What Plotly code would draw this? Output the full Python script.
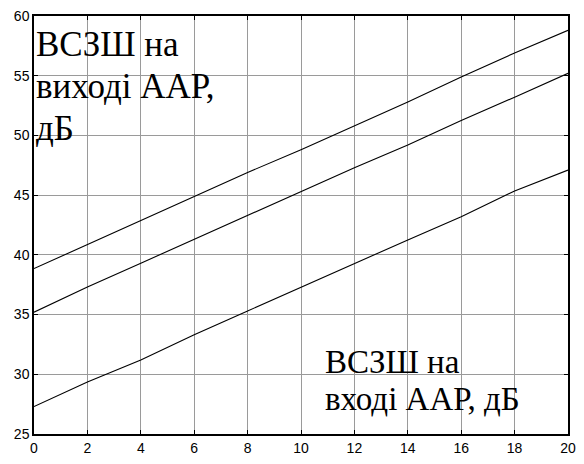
import plotly.graph_objects as go

# Input SNR values (dB) on the horizontal axis
snr_in = [0, 2, 4, 6, 8, 10, 12, 14, 16, 18, 20]

# Output SNR of the adaptive antenna array (dB), three curves
snr_out_upper = [38.85, 40.85, 42.9, 44.85, 46.9, 48.8, 50.8, 52.8, 54.9, 56.9, 58.8]
snr_out_middle = [35.2, 37.3, 39.3, 41.3, 43.3, 45.3, 47.3, 49.2, 51.25, 53.2, 55.2]
snr_out_lower = [27.3, 29.35, 31.2, 33.3, 35.3, 37.3, 39.25, 41.25, 43.2, 45.35, 47.1]

x_ticks = [0, 2, 4, 6, 8, 10, 12, 14, 16, 18, 20]
y_ticks = [25, 30, 35, 40, 45, 50, 55, 60]

# Axis captions, written inside the plot area line by line
out_caption = ["ВСЗШ на", "виході ААР,", "дБ"]
in_caption = ["ВСЗШ на", "вході ААР, дБ"]

fig = go.Figure()
for ys in (snr_out_upper, snr_out_middle, snr_out_lower):
    fig.add_trace(go.Scatter(
        x=snr_in, y=ys, mode="lines",
        line=dict(color="black", width=1.1),
        showlegend=False, hoverinfo="skip",
    ))

axis_common = dict(
    showline=True, linecolor="black", linewidth=1.5, mirror="ticks",
    ticks="inside", ticklen=4, tickwidth=1, tickcolor="black",
    showgrid=True, gridcolor="#9a9a9a", gridwidth=1,
    zeroline=False,
    tickfont=dict(family="Arial", size=14, color="black"),
)

fig.update_xaxes(range=[0, 20], tickvals=x_ticks, ticktext=[str(v) for v in x_ticks],
                 **axis_common)
fig.update_yaxes(range=[25, 60], tickvals=y_ticks, ticktext=[str(v) for v in y_ticks],
                 **axis_common)

serif_big = dict(family="Liberation Serif", size=35, color="black")
serif_small = dict(family="Liberation Serif", size=33, color="black")

# paper-space vertical positions of each caption line
out_rows = [0.932, 0.832, 0.731]
in_rows = [0.173, 0.084]

for text, yy in zip(out_caption, out_rows):
    fig.add_annotation(
        xref="paper", yref="paper", x=0.0, y=yy,
        xanchor="left", yanchor="middle", align="left", showarrow=False,
        text=text, font=serif_big,
    )
for text, yy in zip(in_caption, in_rows):
    fig.add_annotation(
        xref="paper", yref="paper", x=0.542, y=yy,
        xanchor="left", yanchor="middle", align="left", showarrow=False,
        text=text, font=serif_small,
    )

fig.update_layout(
    width=584, height=464,
    margin=dict(l=34, r=8, t=15, b=21),
    paper_bgcolor="white", plot_bgcolor="white",
)

fig.write_html("out.html")
